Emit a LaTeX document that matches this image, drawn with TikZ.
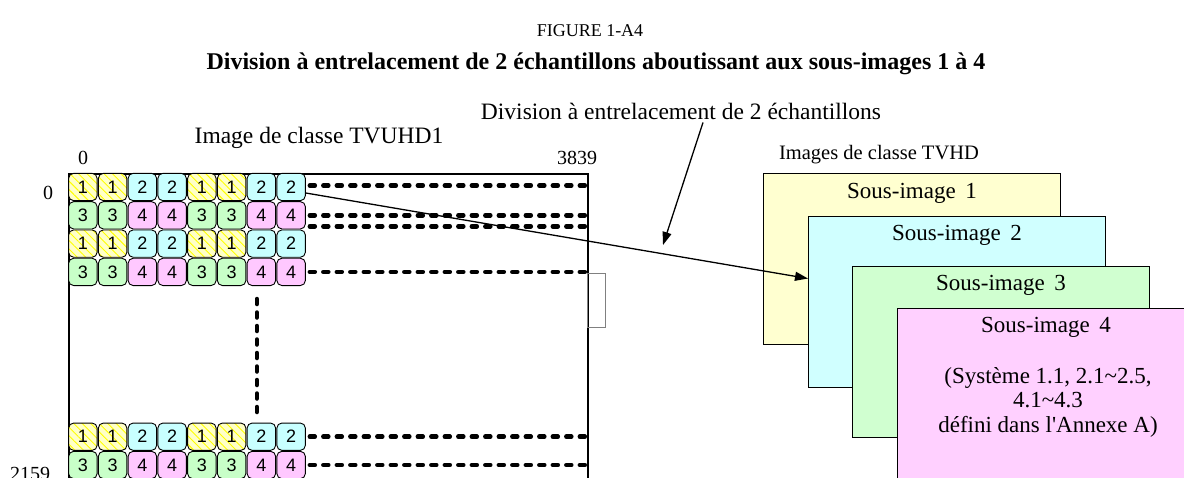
\documentclass[tikz,border=0pt]{standalone}
\usepackage{fontspec}
\setmainfont{Liberation Serif}
\setsansfont{Liberation Sans}
\usetikzlibrary{arrows.meta, positioning, patterns.meta}
\definecolor{yelcell}{HTML}{FFFFC8}
\definecolor{cyancell}{HTML}{C8FFFF}
\definecolor{greencell}{HTML}{C8FFC8}
\definecolor{pinkcell}{HTML}{FFC8FF}
\tikzstyle{pixel} = [rectangle, rounded corners=5pt, minimum width=28.5pt, minimum height=27.3pt, inner sep=0pt, draw=black, line width=0.9pt, font=\sffamily\fontsize{18}{18}\selectfont]
\tikzstyle{pix1} = [pixel, preaction={fill=yelcell}, pattern={Lines[angle=-45, distance=6pt, line width=0.9pt]}, pattern color=yellow]
\tikzstyle{pix2} = [pixel, fill=cyancell]
\tikzstyle{pix3} = [pixel, fill=greencell]
\tikzstyle{pix4} = [pixel, fill=pinkcell]
\tikzstyle{dots} = [line width=4.5pt, line cap=round, dash pattern=on 5pt off 8.5pt]
\tikzstyle{subimg} = [rectangle, draw=black, line width=1pt, minimum width=297pt, minimum height=171pt, anchor=north west, inner sep=0pt]
\tikzstyle{subtext} = [inner sep=0pt, font=\fontsize{23}{24.5}\selectfont]
\tikzstyle{label} = [inner sep=0pt, font=\fontsize{23.5}{26}\selectfont]
\tikzstyle{axis} = [inner sep=0pt, font=\fontsize{20}{22}\selectfont]
\tikzstyle{arrow} = [line width=1.3pt, -{Triangle[length=13pt, width=9pt]}]

\begin{document}
\begin{tikzpicture}[x=1pt, y=-1pt]
\useasboundingbox (0,0) rectangle (1184,477);
\clip (0,0) rectangle (1184,477);

% headings
\node (fig) [inner sep=0pt, font=\fontsize{18}{20}\selectfont] at (590,31) {FIGURE 1-A4};
\node (title) [inner sep=0pt, font=\bfseries\fontsize{24}{26}\selectfont] at (596,64) {Division à entrelacement de 2 échantillons aboutissant aux sous-images 1 à 4};

% source picture
\node (frame) [draw, line width=1.5pt, minimum width=519pt, minimum height=340pt, anchor=north west, inner sep=0pt] at (68,173) {};
\node (tab) [draw=gray, line width=0.8pt, minimum width=18pt, minimum height=54pt, anchor=north west, inner sep=0pt] at (587,272.7) {};
\node (uhd) [label] at (319,138) {Image de classe TVUHD1};
\node (x0) [axis] at (83,158) {0};
\node (x1) [axis] at (577,158) {3839};
\node (y0) [axis] at (48,193) {0};
\node (y1) [axis] at (30,474) {2159};

\foreach \r/\y/\b in {1/187/1, 2/215.3/3, 3/243.6/1, 4/271.9/3, 5/436.7/1, 6/465/3}
  \foreach \c in {1,...,8} {
    \pgfmathtruncatemacro\v{\b+mod(int((\c-1)/2),2)}
    \node (c\r\c) [pix\v] at ({68+29.75*(\c-0.5)},\y) {\v};
  }

\draw [dots] ([xshift=4pt,yshift=1.5pt]c18.east) -- ([yshift=1.5pt]c18.east -| frame.east);
\draw [dots] ([xshift=4pt]c28.east) -- (c28.east -| frame.east);
\draw [dots] ([xshift=4pt,yshift=-11pt]c28.east) -- ([yshift=-11pt]c28.east -| frame.east);
\draw [dots] ([xshift=4pt]c48.east) -- (c48.east -| frame.east);
\draw [dots] ([xshift=4pt]c58.east) -- (c58.east -| frame.east);
\draw [dots] ([xshift=4pt]c68.east) -- (c68.east -| frame.east);
\draw [dots] ([xshift=-4.5pt,yshift=-13pt]c47.south) -- ([xshift=-4.5pt,yshift=8pt]c57.north);

% sub-images
\node (hd) [inner sep=0pt, font=\fontsize{20.5}{22}\selectfont] at (879,155) {Images de classe TVHD};
\node (sub1) [subimg, fill=yelcell!85!white] at (763,173) {};
\node (sub2) [subimg, fill=cyancell!85!white] at (808,216) {};
\node (sub3) [subimg, fill=greencell!85!white] at (852,266) {};
\node (sub4) [subimg, fill=pinkcell!85!white] at (897,308) {};
\node (t1) [subtext] at ([yshift=-20pt]sub1.north) {Sous-image\, 1};
\node (t2) [subtext] at ([yshift=-19pt]sub2.north) {Sous-image\, 2};
\node (t3) [subtext] at ([yshift=-19pt]sub3.north) {Sous-image\, 3};
\node (t4) [subtext] at ([yshift=-19pt]sub4.north) {Sous-image\, 4};
\node (note) [subtext, align=center] at ([xshift=2pt,yshift=-94pt]sub4.north) {(Système 1.1, 2.1\textasciitilde 2.5,\\4.1\textasciitilde 4.3\\ défini dans l\textquotesingle Annexe A)};

% connectors
\node (split) [label] at (681,111) {Division à entrelacement de 2 échantillons};
\coordinate (splittip) at (663,245);
\draw [arrow] ([xshift=22pt,yshift=-3pt]split.south) -- (splittip);
\draw [arrow] ([yshift=-6pt]c18.east) -- ([yshift=23.5pt]sub2.west);
\end{tikzpicture}
\end{document}
